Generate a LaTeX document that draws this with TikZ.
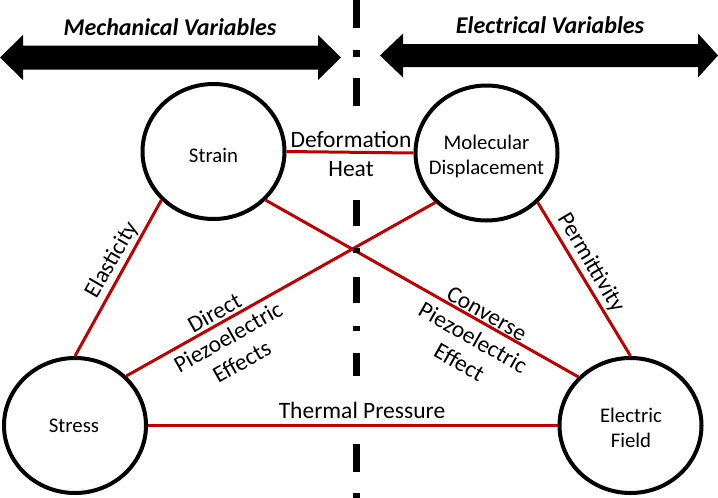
\documentclass[tikz,border=0pt]{standalone}
\usepackage{fontspec}
\setmainfont{Carlito}
\usetikzlibrary{shapes.geometric}
\definecolor{linkred}{RGB}{192,0,0}
\begin{document}
\begin{tikzpicture}[x=1pt,y=-1pt,
  var/.style={ellipse, draw=black, line width=4pt, minimum width=142pt, minimum height=135pt, inner sep=0pt},
  rel/.style={draw=linkred, line width=3pt},
  lbl/.style={font=\fontsize{23.5}{28}\selectfont, inner sep=0pt},
  ntext/.style={font=\fontsize{20.8}{25}\selectfont, align=center, inner sep=0pt},
  headline/.style={font=\fontsize{24}{28}\selectfont\bfseries\itshape, inner sep=0pt, anchor=base}]
\useasboundingbox (0,0) rectangle (718,498);

% top arrows
\fill[black] (0,57.5) -- (23,35) -- (23,45.5) -- (318,45.5) -- (318,35) -- (341,57.5)
  -- (318,80) -- (318,69.5) -- (23,69.5) -- (23,80) -- cycle;
\fill[black] (380,55.5) -- (403,33.5) -- (403,44) -- (698,44) -- (698,33.5) -- (718,55.5)
  -- (698,77.5) -- (698,67) -- (403,67) -- (403,77.5) -- cycle;
\node[headline] (mech) at (170,35) {Mechanical Variables};
\node[headline] (elec) at (550,33) {Electrical Variables};

% variables
\node[var] (S)  at (213.5,151.5) {};
\node[var] (M)  at (486.5,153) {};
\node[var] (St) at (75,425.5) {};
\node[var] (E)  at (630.5,425.5) {};
\node[ntext] (tS)  at (213.5,155) {Strain};
\node[ntext] (tM)  at (486.5,156) {Molecular\\Displacement};
\node[ntext] (tSt) at (74,425.5) {Stress};
\node[ntext] (tE)  at (631,428) {Electric\\Field};

% relations
\draw[rel] (S.east) -- (M.west);
\draw[rel] (S.223) -- (St.north);
\draw[rel] (S.317) -- (E.137);
\draw[rel] (M.224) -- (St.44);
\draw[rel] (M.316.5) -- (E.north);
\draw[rel] (St.east) -- (E.west);

% relation labels
\node[lbl, anchor=base] (ldef) at (351,147) {Deformation};
\node[lbl, anchor=base] (lheat) at (351,176) {Heat};
\node[lbl, anchor=base] (lth) at (362,418) {Thermal Pressure};
\node[lbl, rotate=60] (lel) at (112,260) {Elasticity};
\node[lbl, rotate=-59.3] (lper) at (591,263) {Permittivity};
\node[lbl, rotate=29.4, align=center] (ldir) at (228,337) {Direct\\Piezoelectric\\Effects};
\node[lbl, rotate=-29.6, align=center] (lcon) at (473,338) {Converse\\Piezoelectric\\Effect};

% dash-dot divider
\foreach \a/\b in {0/28,78/106,200/226,277/303,353/376,444/472,50/57,248/253,326/331,493/498}
  \fill[black] (352.5,\a) rectangle (359.5,\b);
\end{tikzpicture}
\end{document}
